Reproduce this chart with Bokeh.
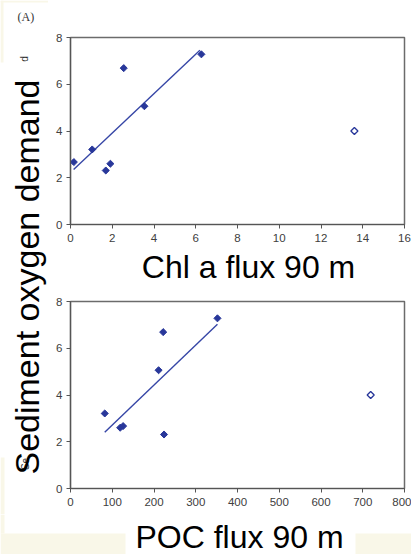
import numpy as np
from bokeh.plotting import figure
from bokeh.layouts import row, column
from bokeh.models import Range1d, FixedTicker, Label, BoxAnnotation
from bokeh.embed import file_html
from bokeh.resources import INLINE

# ---------------- data ----------------
sod = [2.67, 3.21, 2.31, 2.60, 6.69, 5.06, 7.28]          # sediment oxygen demand
chl_flux = [0.16, 1.04, 1.69, 1.91, 2.55, 3.54, 6.27]     # Chl a flux 90 m
poc_flux = [126, 82, 224, 119, 222, 211, 352]             # POC flux 90 m
sod_out = [4.0]
chl_out = [13.6]
poc_out = [719]
chl_fit_x = [0.15, 6.2]
chl_fit_y = [2.35, 7.45]
poc_fit_x = [82, 352]
poc_fit_y = [2.41, 7.03]
chl_ticks = [0, 2, 4, 6, 8, 10, 12, 14, 16]
poc_ticks = [0, 100, 200, 300, 400, 500, 600, 700, 800]
sod_ticks = [0, 2, 4, 6, 8]

BLUE = "#28379a"
LINE_BLUE = "#3646a6"
BEIGE = "#f9f7e8"
FONT = "Liberation Sans"
SHIFT = 0.31  # baseline correction (fraction of font size)


def blank(w, h):
    f = figure(width=w, height=h, x_range=Range1d(0, w), y_range=Range1d(0, h),
               output_backend="svg", toolbar_location=None, min_border=0,
               x_axis_type=None, y_axis_type=None)
    f.outline_line_color = None
    f.background_fill_color = "white"
    f.border_fill_color = "white"
    return f


def box(f, h, x0, x1, y0, y1):
    f.add_layout(BoxAnnotation(left=x0, right=x1, top=h - y0, bottom=h - y1,
                               fill_color=BEIGE, fill_alpha=1.0, line_alpha=0))


def text(f, h, x, y_from_top, s, size_px, rotated=False, font=FONT, color="black",
         align="center"):
    if rotated:
        x = x - SHIFT * size_px
        ang = np.pi / 2
    else:
        y_from_top = y_from_top - SHIFT * size_px
        ang = 0.0
    f.add_layout(Label(x=x, y=h - y_from_top, text=s, text_font=font,
                       text_font_size=f"{size_px}px", text_color=color, angle=ang,
                       text_align=align, text_baseline="alphabetic"))


def make_plot(height, b_top, b_bottom, xmax, xticks, x, xo, fx, fy):
    p = figure(width=363, height=height, x_range=Range1d(0, xmax), y_range=Range1d(0, 8),
               output_backend="svg", toolbar_location=None,
               min_border_left=22, min_border_right=7,
               min_border_top=b_top, min_border_bottom=b_bottom)
    p.grid.visible = False
    p.outline_line_color = "#6b6b6b"
    p.outline_line_width = 1.5
    p.background_fill_color = "white"
    p.border_fill_color = "white"
    p.xaxis.ticker = FixedTicker(ticks=xticks)
    p.yaxis.ticker = FixedTicker(ticks=sod_ticks)
    for ax in (p.xaxis[0], p.yaxis[0]):
        ax.major_label_text_font = FONT
        ax.major_label_text_font_size = "11.5px"
        ax.major_label_text_color = "#404040"
        ax.major_tick_out = 4
        ax.major_tick_in = 0
        ax.minor_tick_out = 0
        ax.minor_tick_in = 0
        ax.axis_line_color = "#555555"
        ax.axis_line_width = 1.2
        ax.major_tick_line_color = "#555555"
    p.xaxis.major_label_standoff = 5
    p.yaxis.major_label_standoff = 4
    p.line(fx, fy, line_color=LINE_BLUE, line_width=1.4)
    p.scatter(x, sod, marker="square", angle=np.pi / 4, size=5,
              fill_color=BLUE, line_color=BLUE, line_width=1)
    p.scatter(xo, sod_out, marker="square", angle=np.pi / 4, size=5,
              fill_color="white", line_color=BLUE, line_width=1.3)
    return p


# ---------------- left strip with the big rotated label ----------------
LW, LH = 48, 514
left = blank(LW, LH)
box(left, LH, 0, 3, 0, 62)
box(left, LH, 0, 48, 0, 2)
box(left, LH, 0, 4, 457, 514)
text(left, LH, 17, 20, "(A)", 12, font="Liberation Serif", color="#333333", align="left")
text(left, LH, 27, 58.5, "d", 10, rotated=True, color="#333333")
text(left, LH, 28, 463.5, "Se", 10, rotated=True, color="#333333")
text(left, LH, 37, 276.5, "Sediment oxygen demand", 34, rotated=True)

# ---------------- plots ----------------
top = make_plot(250, 37, 26, 16, chl_ticks, chl_flux, chl_out, chl_fit_x, chl_fit_y)

CW, CH = 363, 37
chl_band = blank(CW, CH)
text(chl_band, CH, 193.5, 26, "Chl a flux 90 m", 32)

bot = make_plot(227, 14, 26, 800, poc_ticks, poc_flux, poc_out, poc_fit_x, poc_fit_y)

BW, BH = 411, 40
poc_band = blank(BW, BH)
box(poc_band, BH, 0, 4, 0, 19)
box(poc_band, BH, 0, 125, 19, 40)
box(poc_band, BH, 355, 411, 19, 40)
text(poc_band, BH, 239, 32.5, "POC flux 90 m", 32)

layout = column(row(left, column(top, chl_band, bot)), poc_band)

open("out.html", "w").write(file_html(layout, INLINE))
